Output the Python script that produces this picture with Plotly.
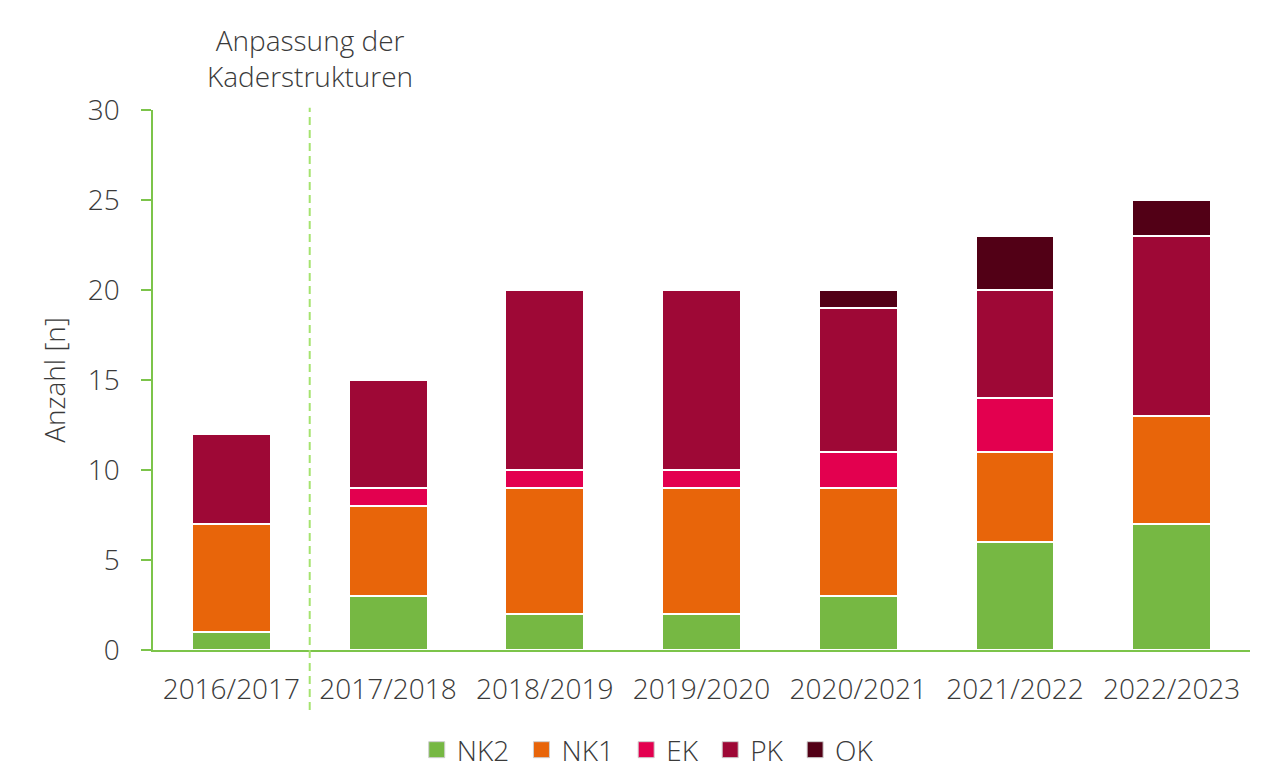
import plotly.graph_objects as go

categories = ["2016/2017", "2017/2018", "2018/2019", "2019/2020", "2020/2021", "2021/2022", "2022/2023"]
nk2 = [1, 3, 2, 2, 3, 6, 7]
nk1 = [6, 5, 7, 7, 6, 5, 6]
ek = [0, 1, 1, 1, 2, 3, 0]
pk = [5, 6, 10, 10, 8, 6, 10]
ok = [0, 0, 0, 0, 1, 3, 2]

series = [
    ("NK2", nk2, "#76b843"),
    ("NK1", nk1, "#e8650a"),
    ("EK", ek, "#e3004f"),
    ("PK", pk, "#9e0836"),
    ("OK", ok, "#520016"),
]

FONT = "Open Sans"
TXT = "#3a3a3a"
AX = "#7cc44a"
FS = 28

fig = go.Figure()
for name, vals, col in series:
    fig.add_trace(go.Bar(
        name=name, x=categories, y=vals,
        marker=dict(color=col, line=dict(color="white", width=1.5)),
        width=0.5, showlegend=False,
    ))
# legend entries (square swatches)
for i, (name, vals, col) in enumerate(series):
    label = name + ("\u00a0" if i < len(series) - 1 else "")
    fig.add_trace(go.Scatter(
        name=label, x=[None], y=[None], mode="markers",
        marker=dict(symbol="square", size=17, color=col, line=dict(color="#cfcfcf", width=1)),
        showlegend=True, hoverinfo="skip",
    ))

fig.add_shape(type="line", xref="x", yref="paper", x0=0.5, x1=0.5, y0=-0.111, y1=1.004,
              line=dict(color="#a5e36f", width=2, dash="8px,5px"))

fig.add_annotation(x=0.5, xref="x", y=1.096, yref="paper", yanchor="middle",
                   text="Anpassung der<br>Kaderstrukturen", showarrow=False,
                   font=dict(family=FONT, size=FS, color=TXT, weight=300))

fig.update_layout(
    barmode="stack",
    width=1274, height=761,
    margin=dict(l=145, r=32, t=102, b=119, autoexpand=False),
    plot_bgcolor="white", paper_bgcolor="white",
    font=dict(family=FONT, size=FS, color=TXT, weight=300),
    showlegend=True,
    legend=dict(orientation="h", x=0.451, xanchor="center", yref="container", y=0.025,
                yanchor="middle",
                font=dict(family=FONT, size=FS, color=TXT, weight=300),
                traceorder="normal", itemwidth=30, itemsizing="trace"),
    xaxis=dict(showline=True, linecolor=AX, linewidth=1.5, ticks="", showgrid=False,
               automargin=False, ticklabelstandoff=14,
               tickfont=dict(family=FONT, size=FS, color=TXT, weight=300)),
    yaxis=dict(range=[0, 30], dtick=5, showline=True, linecolor=AX, linewidth=1.5,
               ticks="outside", tickcolor=AX, ticklen=10, tickwidth=1.5, showgrid=False,
               zeroline=False, automargin=False, ticklabelstandoff=16,
               tickfont=dict(family=FONT, size=FS, color=TXT, weight=300),
               title=dict(text="Anzahl [n]", standoff=14,
                          font=dict(family=FONT, size=FS, color=TXT, weight=300))),
)

fig.write_html("out.html")
